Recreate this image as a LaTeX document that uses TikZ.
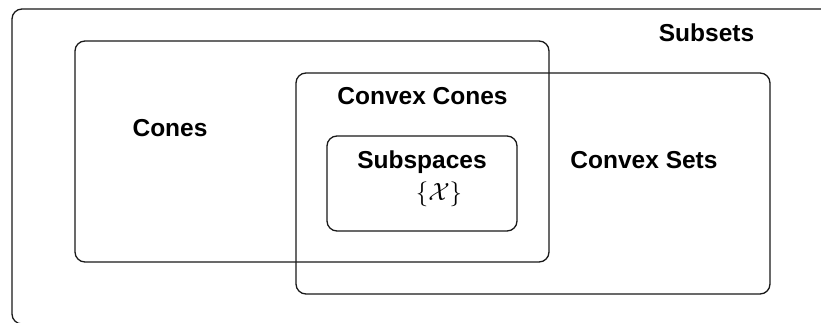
\documentclass[tikz,border=0pt]{standalone}
\usepackage{fontspec}
\setmainfont{Liberation Sans}
\begin{document}
\begin{tikzpicture}[x=1pt,y=-1pt,
  setbox/.style={draw=black!90, line width=1.3pt, rounded corners=10pt,
    inner sep=0pt, outer sep=0pt},
  setlabel/.style={anchor=base, inner sep=0pt,
    font=\fontsize{24.5}{29}\selectfont\bfseries}]
  \useasboundingbox (0,0) rectangle (821,323);
  \clip (0,0) rectangle (821,323);
  % universe of all subsets (runs past the right and bottom edges)
  \node[setbox, minimum width=828pt, minimum height=315pt] (subsets) at (426,166.5) {};
  % cones and convex sets overlap; their intersection holds convex cones
  \node[setbox, minimum width=474pt, minimum height=221pt] (cones) at (312,151.5) {};
  \node[setbox, minimum width=474pt, minimum height=221pt] (convexsets) at (533,183.5) {};
  \node[setbox, minimum width=190pt, minimum height=95pt] (subspaces) at (422,183.5) {};
  % labels
  \node[setlabel] (lsubsets) at (706.5,41.5) {Subsets};
  \node[setlabel] (lcones) at (170,137) {Cones};
  \node[setlabel] (lconvcones) at (422.5,105) {Convex Cones};
  \node[setlabel] (lsubspaces) at (422,168) {Subspaces};
  \node[setlabel] (lconvsets) at (644,168) {Convex Sets};
  \node[inner sep=0pt, font=\fontsize{26}{31}\selectfont] (lx) at (439,194) {$\{\mathcal{X}\}$};
\end{tikzpicture}
\end{document}
